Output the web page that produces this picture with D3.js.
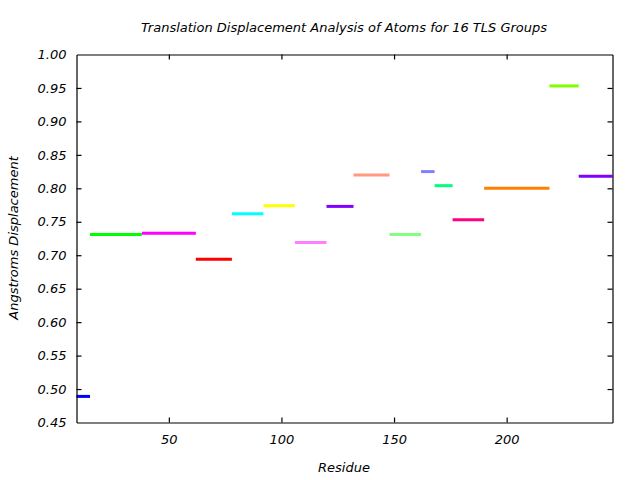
<!DOCTYPE html>
<html><head><meta charset="utf-8">
<script src="https://cdn.jsdelivr.net/npm/d3@7"></script>
<style>body{margin:0;background:#fff}text{font-family:"DejaVu Sans";font-style:italic}</style>
</head><body><svg id="c" width="640" height="480"></svg>
<script>
const groups = ["1","2","3","4","5","6","7","8","9","10","11","12","13","14","15","16"];
const startRes = [9, 15, 38, 62, 78, 92, 106, 120, 132, 148, 162, 168, 176, 190, 219, 232];
const endRes   = [15, 38, 62, 78, 92, 106, 120, 132, 148, 162, 168, 176, 190, 219, 232, 247];
const displacement = [0.489, 0.731, 0.733, 0.694, 0.762, 0.774, 0.719, 0.773, 0.820, 0.731, 0.825, 0.804, 0.753, 0.800, 0.953, 0.818];
const colors = ["#0000ff","#00ff00","#ff00ff","#ff0000","#00ffff","#ffff00","#ff80ff","#8000ff","#ff9980","#80ff80","#8080ff","#00ff80","#ff0080","#ff8000","#80ff00","#8000ff"];
const xTicks = [50, 100, 150, 200];
const yTicks = [0.45,0.50,0.55,0.60,0.65,0.70,0.75,0.80,0.85,0.90,0.95,1.00];

const svg = d3.select("#c");
const L = 76.5, R = 612.5, T = 54.5, B = 422.5;
const x = d3.scaleLinear().domain([9, 247]).range([L, R]);
const y = d3.scaleLinear().domain([0.45, 1.00]).range([B, T]);

svg.append("g").selectAll("line").data(groups).join("line")
  .attr("x1", (d,i)=>x(startRes[i])).attr("x2", (d,i)=>x(endRes[i]))
  .attr("y1", (d,i)=>y(displacement[i])).attr("y2", (d,i)=>y(displacement[i]))
  .attr("stroke", (d,i)=>colors[i]).attr("stroke-width", 3);

const fmt = d3.format(".2f");
const gl = svg.append("g").attr("transform", `translate(${L},0)`)
  .call(d3.axisLeft(y).tickValues(yTicks).tickFormat(fmt).tickSizeInner(-5).tickSizeOuter(0).tickPadding(10));
const gr = svg.append("g").attr("transform", `translate(${R},0)`)
  .call(d3.axisRight(y).tickValues(yTicks).tickFormat("").tickSizeInner(-5).tickSizeOuter(0));
const gb = svg.append("g").attr("transform", `translate(0,${B})`)
  .call(d3.axisBottom(x).tickValues(xTicks).tickFormat(d3.format("d")).tickSizeInner(-5).tickSizeOuter(0).tickPadding(12));
const gt = svg.append("g").attr("transform", `translate(0,${T})`)
  .call(d3.axisTop(x).tickValues(xTicks).tickFormat("").tickSizeInner(-5).tickSizeOuter(0));
[gl,gr,gb,gt].forEach(g=>{
  g.select(".domain").attr("stroke","#000").attr("stroke-width",1.2);
  g.selectAll(".tick line").attr("stroke","#000").attr("stroke-width",1.2);
  g.selectAll("text").attr("fill","#000").style("font-size","13px").style("font-family","DejaVu Sans").style("font-style","italic");
});
gl.selectAll(".tick").filter(d=>d===0.45||d===1.00).select("line").remove();
gr.selectAll(".tick").filter(d=>d===0.45||d===1.00).select("line").remove();

svg.append("text").attr("x", 344).attr("y", 32).attr("text-anchor","middle")
  .style("font-size","13px").text("Translation Displacement Analysis of Atoms for 16 TLS Groups");
svg.append("text").attr("x", 344).attr("y", 472).attr("text-anchor","middle")
  .style("font-size","13px").text("Residue");
svg.append("text").attr("transform","translate(18,238) rotate(-90)").attr("text-anchor","middle")
  .style("font-size","13px").text("Angstroms Displacement");
</script></body></html>
